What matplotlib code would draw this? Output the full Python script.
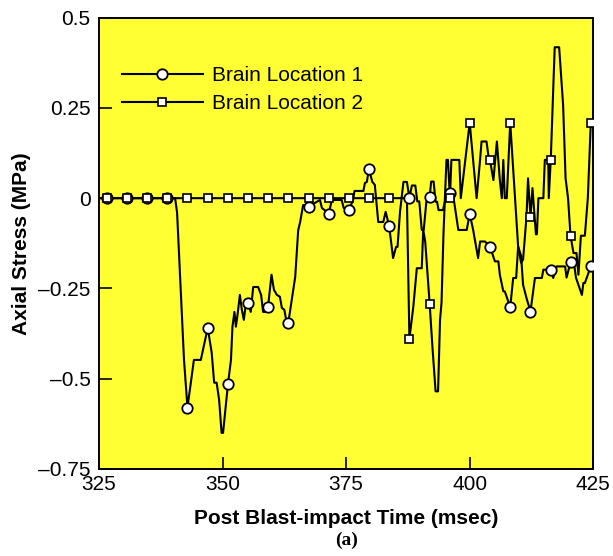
import matplotlib
matplotlib.use("Agg")
import matplotlib.pyplot as plt
from matplotlib.lines import Line2D
import numpy as np

# Brain Location 1: time (msec) / axial stress (MPa)
loc1_t = [325.0, 340.4, 340.8, 342.2, 342.9, 344.2, 345.6, 347.0, 347.8, 348.3,
          348.8, 349.3, 349.8, 350.1, 351.1, 351.7, 352.0, 352.4, 352.7, 353.1,
          353.5, 353.9, 354.3, 354.7, 355.2, 355.7, 356.2, 357.2, 357.8, 358.2,
          358.7, 359.2, 359.9, 360.4, 361.0, 361.6, 362.0, 362.5, 362.8, 363.3,
          364.7, 365.3, 365.7, 366.3, 367.4, 368.7, 369.7, 370.1, 371.5, 372.1,
          374.1, 374.5, 375.6, 376.4, 376.7, 378.5, 378.8, 379.2, 379.6, 380.3,
          380.8, 381.5, 382.5, 383.0, 383.7, 384.1, 384.5, 385.1, 385.4, 385.9,
          386.6, 387.3, 387.8, 388.3, 389.0, 389.4, 389.8, 390.3, 390.7, 391.3,
          391.9, 392.2, 392.7, 393.1, 393.4, 393.7, 394.6, 395.3, 396.0, 396.7,
          397.7, 399.4, 400.0, 400.7, 401.7, 402.1, 403.1, 404.1, 405.1, 405.8,
          406.1, 406.8, 407.1, 408.2, 408.8, 409.4, 409.8, 410.4, 410.8, 411.5,
          412.3, 413.2, 414.6, 414.9, 415.9, 416.4, 416.9, 417.6, 419.3, 419.6,
          420.4, 421.1, 421.5, 422.7, 423.0, 423.3, 424.5, 425.0]
loc1_v = [0.0, 0.0, -0.04, -0.448, -0.580, -0.448, -0.448, -0.359, -0.428, -0.511,
          -0.511, -0.558, -0.650, -0.650, -0.514, -0.448, -0.356, -0.315, -0.356, -0.315,
          -0.268, -0.309, -0.337, -0.295, -0.290, -0.315, -0.246, -0.246, -0.268, -0.315,
          -0.315, -0.301, -0.212, -0.254, -0.268, -0.273, -0.304, -0.309, -0.332, -0.345,
          -0.218, -0.089, -0.066, -0.019, -0.024, -0.013, -0.005, -0.027, -0.043, -0.005,
          -0.005, -0.027, -0.032, -0.005, 0.020, 0.020, 0.042, 0.045, 0.081, 0.045,
          0.037, -0.066, -0.066, -0.038, -0.077, -0.121, -0.166, -0.135, -0.135, -0.038,
          0.045, 0.045, 0.0, 0.035, 0.035, -0.009, -0.009, -0.088, -0.088, 0.0,
          0.003, 0.046, 0.046, -0.010, -0.010, -0.033, -0.033, 0.010, 0.014, 0.004,
          -0.088, -0.088, -0.043, -0.088, -0.166, -0.120, -0.120, -0.134, -0.175, -0.175,
          -0.212, -0.258, -0.258, -0.302, -0.221, -0.221, -0.134, -0.160, -0.240, -0.277,
          -0.314, -0.221, -0.221, -0.198, -0.198, -0.198, -0.221, -0.189, -0.189, -0.220,
          -0.177, -0.180, -0.220, -0.268, -0.235, -0.235, -0.189, -0.200]

# Brain Location 2
loc2_t = [325.0, 387.3, 387.8, 388.6, 389.3, 390.3, 390.6, 391.0, 391.9, 392.5,
          393.1, 393.6, 394.0, 394.3, 394.7, 395.3, 395.6, 396.0, 396.3, 397.9,
          398.2, 400.0, 401.4, 402.1, 402.4, 403.4, 403.9, 404.1, 404.8, 405.5,
          406.1, 406.5, 406.8, 407.1, 407.5, 408.2, 409.8, 410.4, 410.8, 411.5,
          411.8, 412.3, 412.7, 413.4, 413.6, 413.9, 414.9, 415.2, 415.9, 416.0,
          416.4, 417.2, 418.1, 418.9, 419.4, 419.9, 420.4, 421.0, 421.6, 422.0,
          422.5, 423.3, 423.9, 424.5, 425.0]
loc2_v = [0.0, 0.0, -0.390, -0.300, -0.194, -0.194, -0.088, -0.120, -0.293, -0.420,
          -0.535, -0.535, -0.337, -0.290, -0.097, 0.106, 0.106, 0.0, 0.106, 0.106,
          0.0, 0.209, 0.0, 0.106, 0.157, 0.157, 0.106, 0.106, 0.050, 0.157,
          0.050, 0.0, 0.106, 0.0, 0.0, 0.209, -0.134, -0.179, -0.170, -0.050,
          0.055, -0.051, 0.028, -0.100, -0.100, 0.0, 0.0, 0.106, 0.106, 0.0,
          0.106, 0.418, 0.418, 0.258, 0.055, 0.0, -0.104, -0.152, -0.152, -0.212,
          -0.104, -0.104, 0.0, 0.209, 0.209]

# symbol positions (one every ~4 msec)
mark_t = [326.6, 330.7, 334.8, 338.8, 342.9, 347.0, 351.1, 355.2, 359.2, 363.3,
          367.4, 371.5, 375.6, 379.6, 383.7, 387.8, 391.9, 396.0, 400.0, 404.1,
          408.2, 412.3, 416.4, 420.4, 424.5]
mark1_v = [0.0, 0.0, 0.0, 0.0, -0.580, -0.359, -0.514, -0.290, -0.301, -0.345,
           -0.024, -0.043, -0.032, 0.081, -0.077, 0.0, 0.003, 0.014, -0.043, -0.134,
           -0.302, -0.314, -0.198, -0.177, -0.189]
mark2_v = [0.0] * 15 + [-0.390, -0.293, 0.0, 0.209, 0.106, 0.209, -0.051, 0.106,
                        -0.104, 0.209]

labels = ["Brain Location 1", "Brain Location 2"]
xticks = [325, 350, 375, 400, 425]
yticks = [-0.75, -0.5, -0.25, 0, 0.25, 0.5]
ytick_labels = ["\u20130.75", "\u20130.5", "\u20130.25", "0", "0.25", "0.5"]

plt.rcParams["font.family"] = ["Liberation Sans", "DejaVu Sans"]

fig = plt.figure(figsize=(6.13, 5.56), dpi=100)
ax = fig.add_axes([0.1615, 0.1565, 0.8063, 0.8118])
ax.set_facecolor("#ffff33")

lw = 1.5
ax.plot(loc1_t, loc1_v, color="black", lw=lw, zorder=2)
ax.plot(loc2_t, loc2_v, color="black", lw=lw, zorder=2)
ax.plot(mark_t, mark1_v, ls="none", marker="o", ms=7.5, mfc="white",
        mec="black", mew=1.3, zorder=3)
ax.plot(mark_t, mark2_v, ls="none", marker="s", ms=5.2, mfc="white",
        mec="black", mew=1.2, zorder=4)

ax.set_xlim(325, 425)
ax.set_ylim(-0.75, 0.5)
ax.set_xticks(xticks)
ax.set_xticklabels([str(x) for x in xticks])
ax.set_yticks(yticks)
ax.set_yticklabels(ytick_labels)
ax.tick_params(direction="in", length=9, width=1.2, labelsize=15,
               top=False, right=False)
ax.tick_params(axis="y", pad=6)
ax.tick_params(axis="x", pad=4)
for s in ax.spines.values():
    s.set_linewidth(1.4)

ax.set_xlabel("Post Blast-impact Time (msec)", fontsize=15, fontweight="bold",
              labelpad=11)
ax.set_ylabel("Axial Stress (MPa)", fontsize=15, fontweight="bold", labelpad=5.5)

handles = [
    Line2D([], [], color="black", lw=lw, marker="o", ms=7.5, mfc="white",
           mec="black", mew=1.3),
    Line2D([], [], color="black", lw=lw, marker="s", ms=5.2, mfc="white",
           mec="black", mew=1.2),
]
ax.legend(handles, labels, loc="upper left", bbox_to_anchor=(0.046, 0.893),
          frameon=False, fontsize=15, handlelength=3.9, handletextpad=0.45,
          labelspacing=0.45, borderpad=0, borderaxespad=0)

fig.text(0.565, 0.029, "(a)", ha="center", va="center", fontsize=14,
         fontweight="bold", family="Liberation Serif")

fig.savefig("out.png", dpi=100)
